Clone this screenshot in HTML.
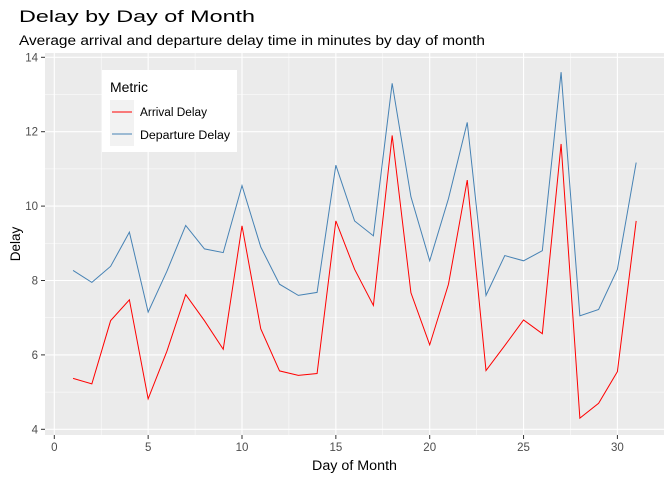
<!DOCTYPE html>
<html><head><meta charset="utf-8"><style>
body{margin:0;background:#fff;font-family:"Liberation Sans",Arial,sans-serif}
</style></head><body>
<svg width="672" height="480" id="c" xmlns="http://www.w3.org/2000/svg">
<text x="19" y="22" font-size="17" textLength="236" lengthAdjust="spacingAndGlyphs" fill="#000">Delay by Day of Month</text>
<text x="19" y="45" font-size="13.5" textLength="466" lengthAdjust="spacingAndGlyphs" fill="#000">Average arrival and departure delay time in minutes by day of month</text>
<rect x="45" y="53" width="619" height="382" fill="#ebebeb"/>
<g id="grid"></g><g id="lines"></g><g id="axes"></g>
<text x="312" y="470" font-size="13.5" textLength="85" lengthAdjust="spacingAndGlyphs">Day of Month</text>
<text transform="translate(20,244) rotate(-90)" font-size="13.5" text-anchor="middle">Delay</text>
<g>
<rect x="102" y="70" width="135" height="82" fill="#fff"/>
<text x="110" y="92" font-size="13.5" textLength="38" lengthAdjust="spacingAndGlyphs">Metric</text>
<rect x="110" y="100" width="24" height="23" fill="#f2f2f2"/>
<rect x="110" y="123" width="24" height="23" fill="#f2f2f2"/>
<line x1="112" x2="132" y1="112" y2="112" stroke="#ff0000"/>
<line x1="112" x2="132" y1="134" y2="134" stroke="#4682b4"/>
<text x="140" y="116" font-size="11.5" textLength="67" lengthAdjust="spacingAndGlyphs">Arrival Delay</text>
<text x="140" y="139" font-size="11.5" textLength="90" lengthAdjust="spacingAndGlyphs">Departure Delay</text>
</g>
</svg>
<script>
const days=[1,2,3,4,5,6,7,8,9,10,11,12,13,14,15,16,17,18,19,20,21,22,23,24,25,26,27,28,29,30,31];
const arrival=[5.37,5.22,6.92,7.48,4.82,6.1,7.62,6.92,6.15,9.47,6.7,5.57,5.45,5.5,9.6,8.3,7.33,11.9,7.67,6.27,7.9,10.7,5.58,6.25,6.94,6.57,11.67,4.3,4.7,5.55,9.6];
const departure=[8.27,7.95,8.38,9.3,7.15,8.25,9.48,8.85,8.75,10.55,8.9,7.9,7.6,7.68,11.1,9.6,9.2,13.3,10.25,8.53,10.2,12.25,7.6,8.67,8.53,8.8,13.6,7.05,7.22,8.3,11.17];
const xTicks=[0,5,10,15,20,25,30];
const yTicks=[4,6,8,10,12,14];
const ns="http://www.w3.org/2000/svg";
const X=v=>54.3+v*18.77;
const Y=v=>429.3-(v-4)*37.2;
function mk(t,a,p){const e=document.createElementNS(ns,t);for(const k in a)e.setAttribute(k,a[k]);p.appendChild(e);return e;}
const g=document.getElementById('grid'),ax=document.getElementById('axes'),ln=document.getElementById('lines');
for(let i=0;i<yTicks.length;i++){
 const y=Y(yTicks[i]);
 const l=mk('line',{x1:45,x2:664,y1:y,y2:y,stroke:'#fff','stroke-width':1.1},g);
 
 
 if(i<yTicks.length-1){const m=mk('line',{x1:45,x2:664,y1:Y(yTicks[i]+1),y2:Y(yTicks[i]+1),stroke:'#fff','stroke-width':0.5},g);
 
 }
 mk('line',{x1:41,x2:45,y1:y,y2:y,stroke:'#333'},ax);
 const t=mk('text',{x:38,y:y+4,'font-size':11.5,'text-anchor':'end',fill:'#4d4d4d'},ax);
 t.textContent=yTicks[i];
 
 
}
for(let i=0;i<xTicks.length;i++){
 const x=X(xTicks[i]);
 const l=mk('line',{x1:x,x2:x,y1:53,y2:435,stroke:'#fff','stroke-width':1.1},g);
 
 
 const m=mk('line',{x1:X(xTicks[i]+2.5),x2:X(xTicks[i]+2.5),y1:53,y2:435,stroke:'#fff','stroke-width':0.5},g);
 
 
 mk('line',{x1:x,x2:x,y1:435,y2:439,stroke:'#333'},ax);
 const t=mk('text',{x:x,y:451,'font-size':11.5,'text-anchor':'middle',fill:'#4d4d4d'},ax);
 t.textContent=xTicks[i];
 
 
}
function line(vals,col,name){
 const p=mk('polyline',{points:days.map((d,i)=>X(d)+','+Y(vals[i])).join(' '),fill:'none',stroke:col,'stroke-width':1},ln);
 
 
}
line(departure,'#4682b4','departure-delay-line');
line(arrival,'#ff0000','arrival-delay-line');
</script>
</body></html>
